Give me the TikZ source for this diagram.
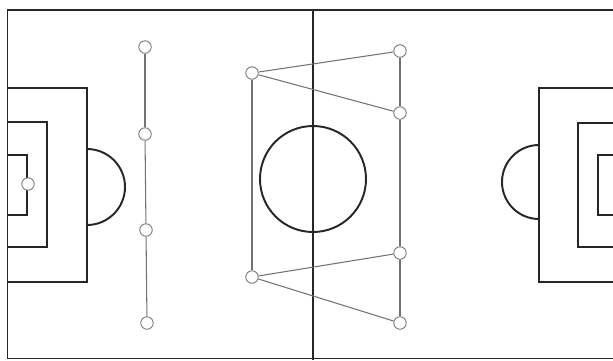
\documentclass[tikz,border=0pt]{standalone}
\usetikzlibrary{positioning}
\begin{document}
\begin{tikzpicture}[x=0.02cm, y=-0.02cm,
      fld/.style={draw=black!85, line width=1.1pt},
      pl/.style={circle, draw=black!55, fill=white, line width=0.5pt,
                 minimum size=0.25cm, inner sep=0pt},
      lnk/.style={draw=black!55, line width=0.6pt},
    ]
    % Only the left half and a slice of the right half are shown,
    % so the pitch runs past the right edge and gets clipped there.
    \clip (0,0) rectangle (613,360);
    \draw[fld] (7.5,10) rectangle (650,358.5);
    \draw[fld, line width=1.7pt] (313,10) -- (313,360);
    \draw[fld] (313,179) circle[radius=53];
    % left goal area, boxes and the D
    \draw[fld] (7.5,88) rectangle (87,282);
    \draw[fld] (7.5,122) rectangle (47,247);
    \draw[fld] (7.5,155) rectangle (27,215);
    \draw[fld] (87,225) arc[start angle=90, end angle=-90, radius=38];
    % right goal area, boxes and the D
    \draw[fld] (539,88) rectangle (650,282);
    \draw[fld] (578,123) rectangle (650,247);
    \draw[fld] (598,155) rectangle (650,215);
    \draw[fld] (539,145) arc[start angle=270, end angle=90, radius=37];
    % players
    \node[pl] (gk) at (28,184) {};
    \node[pl] (d1) at (145,47) {};
    \node[pl] (d2) at (145,134) {};
    \node[pl] (d3) at (146,230) {};
    \node[pl] (d4) at (147,323) {};
    \node[pl] (m1) at (252,73) {};
    \node[pl] (m2) at (252,277) {};
    \node[pl] (f1) at (400,51) {};
    \node[pl] (f2) at (400,113) {};
    \node[pl] (f3) at (400,253) {};
    \node[pl] (f4) at (400,323) {};
    \draw[lnk] (d1) -- (d2);
    \draw[lnk] (d2) -- (d3);
    \draw[lnk] (d3) -- (d4);
    \draw[lnk] (m1) -- (m2);
    \draw[lnk] (m1) -- (f1);
    \draw[lnk] (m1) -- (f2);
    \draw[lnk] (m2) -- (f3);
    \draw[lnk] (m2) -- (f4);
    \draw[lnk] (f1) -- (f2);
    \draw[lnk] (f2) -- (f3);
    \draw[lnk] (f3) -- (f4);
  \end{tikzpicture}
\end{document}
